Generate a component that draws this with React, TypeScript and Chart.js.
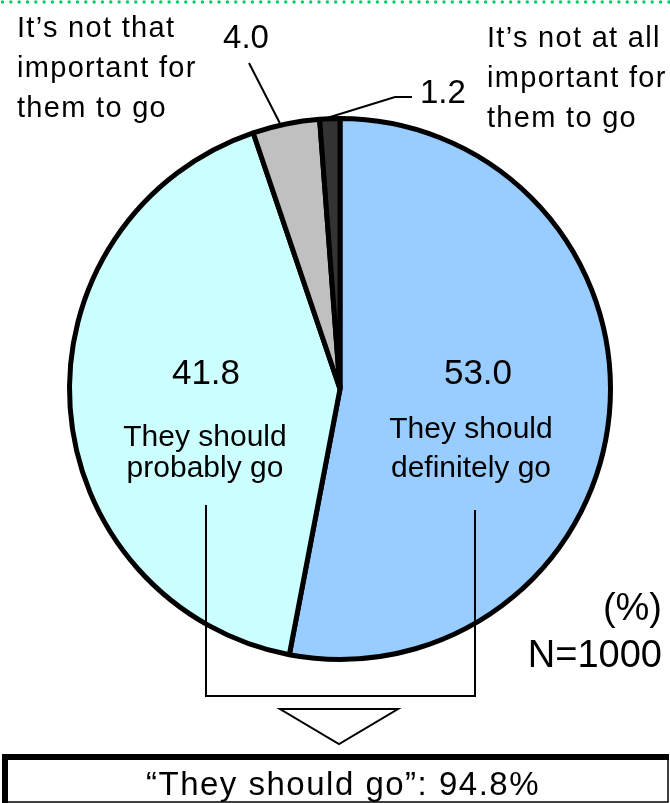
import React, { useEffect, useRef } from "react";
import { Chart, registerables } from "chart.js";

Chart.register(...registerables);

// ---- data ----
const categories = [
  "They should definitely go",
  "They should probably go",
  "It’s not that important for them to go",
  "It’s not at all important for them to go",
];
const values = [53.0, 41.8, 4.0, 1.2];
const colors = ["#99CCFF", "#CCFFFF", "#C0C0C0", "#333333"];
const labelLines = [
  ["They should", "definitely go"],
  ["They should", "probably go"],
  ["It’s not that", "important for", "them to go"],
  ["It’s not at all", "important for", "them to go"],
];
const unitLabel = "(%)";
const sampleLabel = "N=1000";
const summaryName = "They should go";

const FONT = '"Liberation Sans", Arial, sans-serif';

function txt(
  ctx: CanvasRenderingContext2D,
  s: string,
  x: number,
  y: number,
  size: number,
  align: CanvasTextAlign,
  spacing = 0
) {
  ctx.font = `${size}px ${FONT}`;
  (ctx as any).letterSpacing = `${spacing}px`;
  ctx.textAlign = align;
  ctx.textBaseline = "alphabetic";
  ctx.fillStyle = "#000";
  ctx.fillText(s, x, y);
  (ctx as any).letterSpacing = "0px";
}

const overlay = {
  id: "overlay",
  afterDraw(chart: any) {
    const ctx: CanvasRenderingContext2D = chart.ctx;
    const arcs = chart.getDatasetMeta(0).data;
    const anchor = (i: number) => {
      const p = arcs[i].getProps(["x", "y", "startAngle", "endAngle", "outerRadius"], true);
      const a = (p.startAngle + p.endAngle) / 2;
      const r = p.outerRadius + 1;
      return { x: p.x + r * Math.cos(a), y: p.y + r * Math.sin(a) };
    };
    ctx.save();

    // green dotted rule at the top
    ctx.fillStyle = "#00CC66";
    for (let x = 2.5; x < 670; x += 8.33) {
      ctx.beginPath();
      ctx.arc(x, 2, 1.7, 0, Math.PI * 2);
      ctx.fill();
    }

    ctx.strokeStyle = "#000";
    ctx.lineWidth = 2;
    // leader for slice 2 (4.0)
    const p2 = anchor(2);
    ctx.beginPath();
    ctx.moveTo(p2.x - 6, p2.y);
    ctx.lineTo(249, 63);
    ctx.stroke();
    // leader for slice 3 (1.2)
    const p3 = anchor(3);
    ctx.beginPath();
    ctx.moveTo(p3.x - 2, p3.y);
    ctx.lineTo(395, 97);
    ctx.lineTo(412, 97);
    ctx.stroke();

    // top labels
    txt(ctx, values[2].toFixed(1), 246, 48, 33, "center");
    txt(ctx, values[3].toFixed(1), 420, 103, 33, "left");
    labelLines[2].forEach((l, k) => txt(ctx, l, 17, 37 + k * 40, 29, "left", 1.3));
    labelLines[3].forEach((l, k) => txt(ctx, l, 487, 47 + k * 40, 29, "left", 1.3));

    // inner labels
    txt(ctx, values[1].toFixed(1), 206, 384, 35, "center");
    txt(ctx, labelLines[1][0], 205, 446, 30, "center");
    txt(ctx, labelLines[1][1], 205, 477, 30, "center");
    txt(ctx, values[0].toFixed(1), 478, 384, 35, "center");
    txt(ctx, labelLines[0][0], 471, 438, 30, "center");
    txt(ctx, labelLines[0][1], 471, 477, 30, "center");

    // unit + N
    txt(ctx, unitLabel, 662, 620, 38, "right");
    txt(ctx, sampleLabel, 662, 667, 38, "right");

    // bracket
    ctx.lineWidth = 2;
    ctx.beginPath();
    ctx.moveTo(206, 505);
    ctx.lineTo(206, 696);
    ctx.lineTo(475, 696);
    ctx.lineTo(475, 510);
    ctx.stroke();

    // triangle
    ctx.beginPath();
    ctx.moveTo(280, 709);
    ctx.lineTo(398, 709);
    ctx.lineTo(339, 744);
    ctx.closePath();
    ctx.fillStyle = "#fff";
    ctx.fill();
    ctx.stroke();

    // summary box
    ctx.fillStyle = "#000";
    ctx.fillRect(2, 754, 667, 6);
    ctx.fillRect(2, 754, 6, 49);
    ctx.lineWidth = 1.5;
    ctx.beginPath();
    ctx.moveTo(668, 754);
    ctx.lineTo(668, 802);
    ctx.lineTo(5, 802);
    ctx.stroke();
    const total = (values[0] + values[1]).toFixed(1);
    txt(ctx, `“${summaryName}”: ${total}%`, 343, 795, 33, "center", 1.5);

    ctx.restore();
  },
};

export default function App() {
  const ref = useRef<HTMLCanvasElement | null>(null);
  useEffect(() => {
    document.body.style.margin = "0";
    const canvas = ref.current!;
    const chart = new Chart(canvas, {
      type: "pie",
      data: {
        labels: categories,
        datasets: [
          {
            data: values,
            backgroundColor: colors,
            borderColor: "#000",
            borderWidth: 5,
          },
        ],
      },
      options: {
        responsive: false,
        animation: false,
        devicePixelRatio: 1,
        layout: { padding: { left: 67, top: 116, right: 57, bottom: 141 } },
        plugins: {
          legend: { display: false },
          tooltip: { enabled: false },
        },
      },
      plugins: [overlay],
    });
    return () => chart.destroy();
  }, []);
  return (
    <div style={{ width: 670, height: 803, background: "#fff" }}>
      <canvas ref={ref} width={670} height={803} style={{ display: "block" }} />
    </div>
  );
}
